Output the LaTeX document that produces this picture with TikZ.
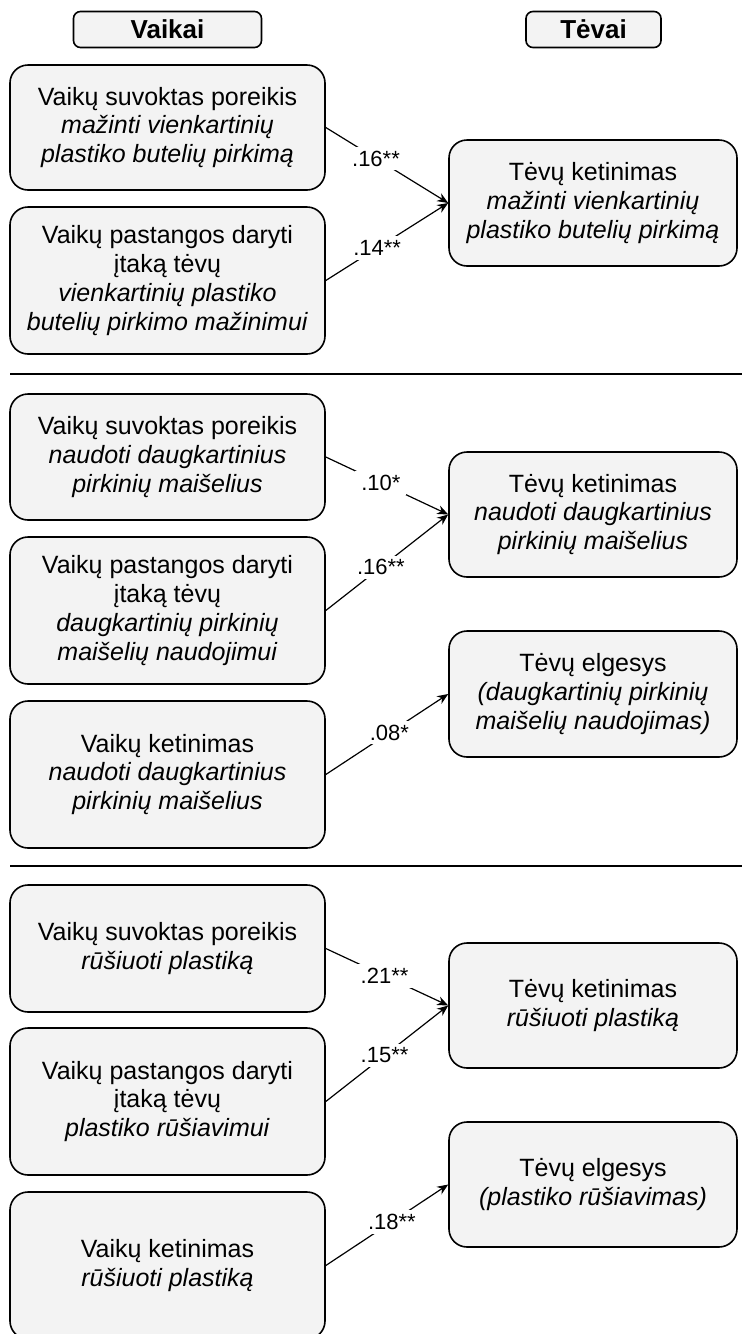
\documentclass[tikz,border=0pt]{standalone}
\usepackage{fontspec}
\setmainfont{Liberation Sans}
\usetikzlibrary{arrows.meta}
\definecolor{boxfill}{RGB}{243,243,243}
\begin{document}
\begin{tikzpicture}[x=0.5pt,y=-0.5pt,
  lbox/.style={draw=black,line width=0.8pt,fill=boxfill,rounded corners=9pt,align=center,inner sep=0pt,minimum width=157.5pt,font=\fontsize{12.5}{14.4}\selectfont},
  rbox/.style={lbox,minimum width=144pt},
  hbox/.style={draw=black,line width=0.8pt,fill=boxfill,rounded corners=3.5pt,minimum height=18pt,inner sep=0pt,font=\fontsize{13}{15}\selectfont\bfseries},
  arr/.style={-{Stealth[length=5.5pt,width=4.5pt]},line width=0.6pt},
  lab/.style={fill=white,inner xsep=3pt,inner ysep=2pt,font=\fontsize{11}{13}\selectfont},
  sepline/.style={line width=1pt}
]
\useasboundingbox (0,0) rectangle (742,1334);
% headers
\node[hbox,minimum width=94pt] (hv) at (167.5,29.5) {Vaikai};
\node[hbox,minimum width=67.5pt] (ht) at (593.5,29.5) {Tėvai};
% section 1
\node[lbox,minimum height=62.5pt] (A1) at (167.5,127.5) {Vaikų suvoktas poreikis\\ \textit{mažinti vienkartinių}\\ \textit{plastiko butelių pirkimą}};
\node[lbox,minimum height=73.5pt] (A2) at (167.5,280.5) {Vaikų pastangos daryti\\ įtaką tėvų\\ \textit{vienkartinių plastiko}\\ \textit{butelių pirkimo mažinimui}};
\node[rbox,minimum height=63pt] (T1) at (593,203) {Tėvų ketinimas\\ \textit{mažinti vienkartinių}\\ \textit{plastiko butelių pirkimą}};
\draw[arr] (A1.east) -- node[lab,pos=0.41] (l1) {.16**} (T1.west);
\draw[arr] (A2.east) -- node[lab,pos=0.42] (l2) {.14**} (T1.west);
\coordinate (s1a) at (10,374);
\coordinate (s1b) at (742,374);
\draw[sepline] (s1a) -- (s1b);
% section 2
\node[lbox,minimum height=63pt] (B1) at (167.5,457) {Vaikų suvoktas poreikis\\ \textit{naudoti daugkartinius}\\ \textit{pirkinių maišelius}};
\node[lbox,minimum height=73.5pt] (B2) at (167.5,610.5) {Vaikų pastangos daryti\\ įtaką tėvų\\ \textit{daugkartinių pirkinių}\\ \textit{maišelių naudojimui}};
\node[lbox,minimum height=73.5pt] (B3) at (167.5,774.5) {Vaikų ketinimas\\ \textit{naudoti daugkartinius}\\ \textit{pirkinių maišelius}};
\node[rbox,minimum height=62.5pt] (TB1) at (593,514.5) {Tėvų ketinimas\\ \textit{naudoti daugkartinius}\\ \textit{pirkinių maišelius}};
\node[rbox,minimum height=63pt] (TB2) at (593,694) {Tėvų elgesys\\ \textit{(daugkartinių pirkinių}\\ \textit{maišelių naudojimas)}};
\draw[arr] (B1.east) -- node[lab,pos=0.45] (l3) {.10*} (TB1.west);
\draw[arr] (B2.east) -- node[lab,pos=0.45] (l4) {.16**} (TB1.west);
\draw[arr] (B3.east) -- node[lab,pos=0.52] (l5) {.08*} (TB2.west);
\coordinate (s2a) at (10,866);
\coordinate (s2b) at (742,866);
\draw[sepline] (s2a) -- (s2b);
% section 3
\node[lbox,minimum height=63.5pt] (C1) at (167.5,948.5) {Vaikų suvoktas poreikis\\ \textit{rūšiuoti plastiką}};
\node[lbox,minimum height=73.5pt] (C2) at (167.5,1101.5) {Vaikų pastangos daryti\\ įtaką tėvų\\ \textit{plastiko rūšiavimui}};
\node[lbox,minimum height=73.5pt] (C3) at (167.5,1265.5) {Vaikų ketinimas\\ \textit{rūšiuoti plastiką}};
\node[rbox,minimum height=62.5pt] (TC1) at (593,1005.5) {Tėvų ketinimas\\ \textit{rūšiuoti plastiką}};
\node[rbox,minimum height=62.5pt] (TC2) at (593,1184.5) {Tėvų elgesys\\ \textit{(plastiko rūšiavimas)}};
\draw[arr] (C1.east) -- node[lab,pos=0.48] (l6) {.21**} (TC1.west);
\draw[arr] (C2.east) -- node[lab,pos=0.48] (l7) {.15**} (TC1.west);
\draw[arr] (C3.east) -- node[lab,pos=0.54] (l8) {.18**} (TC2.west);
\end{tikzpicture}
\end{document}
